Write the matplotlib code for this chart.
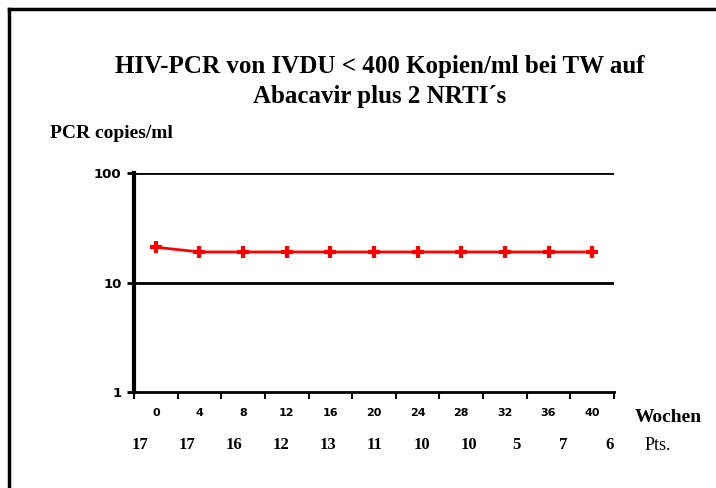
import numpy as np
import matplotlib
matplotlib.use("Agg")
import matplotlib.pyplot as plt
from matplotlib.lines import Line2D

# Daten
wochen = ['0', '4', '8', '12', '16', '20', '24', '28', '32', '36', '40']
pcr_werte = [21, 19, 19, 19, 19, 19, 19, 19, 19, 19, 19]
pts = ['17', '17', '16', '12', '13', '11', '10', '10', '5', '7', '6']

W, H = 716, 488
fig = plt.figure(figsize=(W / 100, H / 100), dpi=100)
fig.patch.set_facecolor('white')

# rahmen (nur links und oben sichtbar)
fig.add_artist(Line2D([9 / W, 9 / W], [0, 1 - 9 / H], color='black', lw=2.5,
                      transform=fig.transFigure))
fig.add_artist(Line2D([9 / W, 1], [1 - 9 / H, 1 - 9 / H], color='black', lw=2.5,
                      transform=fig.transFigure))

ax = fig.add_axes([134 / W, 1 - 392 / H, 480 / W, 219 / H])
x = np.arange(len(wochen))
ax.plot(x, pcr_werte, color='red', lw=2, marker='+', ms=9, mew=3)

ax.set_yscale('log')
ax.set_ylim(1, 100)
ax.set_yticks([1, 10, 100])
ax.set_yticklabels(['1', '10', '100'], fontsize=9.5, family='DejaVu Sans', weight='bold')
ax.yaxis.set_minor_locator(plt.NullLocator())
for v in [10, 100]:
    ax.axhline(v, color='black', lw=2)
ax.tick_params(axis='y', length=5, width=2, pad=4)

ax.set_xlim(-0.5, len(wochen) - 0.5)
ax.set_xticks(np.arange(len(wochen) + 1) - 0.5)
ax.set_xticklabels([])
ax.tick_params(axis='x', direction='out', length=5, width=1.5)
for i, w in enumerate(wochen):
    ax.text(i, -0.095, w, transform=ax.get_xaxis_transform(), ha='center', va='center',
            fontsize=8, family='DejaVu Sans', weight='bold')

for s in ['top', 'right']:
    ax.spines[s].set_visible(False)
ax.spines['left'].set_linewidth(3)
ax.spines['bottom'].set_linewidth(2)

# Pts-zeile
pts_x = np.linspace(140, 610, len(pts))
for px, p in zip(pts_x, pts):
    fig.text(px / W, 1 - 445 / H, p, ha='center', va='center', fontsize=12,
             family='Liberation Serif', weight='bold')
fig.text(645 / W, 1 - 445 / H, 'Pts.', ha='left', va='center', fontsize=13,
         family='Liberation Serif')
fig.text(635 / W, 1 - 418 / H, 'Wochen', ha='left', va='center', fontsize=14,
         family='Liberation Serif', weight='bold')

fig.text(380 / W, 1 - 66 / H, 'HIV-PCR von IVDU < 400 Kopien/ml bei TW auf',
         ha='center', va='center', fontsize=18, family='Liberation Serif', weight='bold')
fig.text(380 / W, 1 - 97 / H, 'Abacavir plus 2 NRTI´s',
         ha='center', va='center', fontsize=18, family='Liberation Serif', weight='bold')
fig.text(50 / W, 1 - 134 / H, 'PCR copies/ml', ha='left', va='center', fontsize=14,
         family='Liberation Serif', weight='bold')

fig.savefig('out.png', dpi=100)
